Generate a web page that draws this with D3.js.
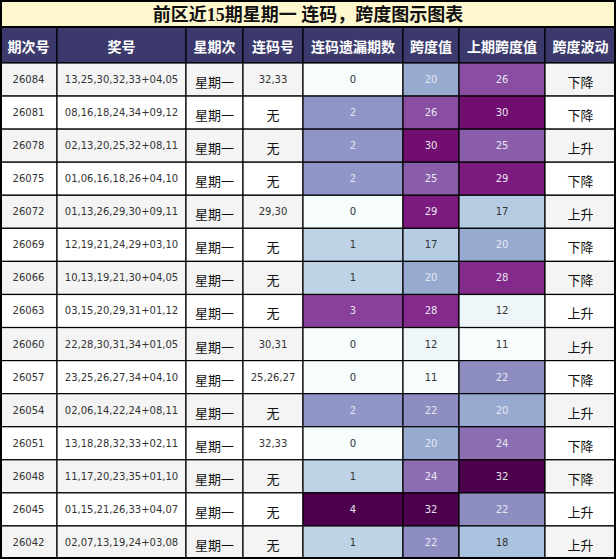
<!DOCTYPE html>
<html>
<head>
<meta charset="utf-8">
<script src="https://cdn.jsdelivr.net/npm/d3@7"></script>
<style>
  body { margin: 0; background: #fff; }
  svg { display: block; }
</style>
</head>
<body>
<div id="wrapper"></div>
<script>
// 1. Data
const title = "前区近15期星期一 连码，跨度图示图表"
const headers = ["期次号", "奖号", "星期次", "连码号", "连码遗漏期数", "跨度值", "上期跨度值", "跨度波动"]

const periods = ["26084", "26081", "26078", "26075", "26072", "26069", "26066", "26063",
                 "26060", "26057", "26054", "26051", "26048", "26045", "26042"]
const draws = ["13,25,30,32,33+04,05", "08,16,18,24,34+09,12", "02,13,20,25,32+08,11",
               "01,06,16,18,26+04,10", "01,13,26,29,30+09,11", "12,19,21,24,29+03,10",
               "10,13,19,21,30+04,05", "03,15,20,29,31+01,12", "22,28,30,31,34+01,05",
               "23,25,26,27,34+04,10", "02,06,14,22,24+08,11", "13,18,28,32,33+02,11",
               "11,17,20,23,35+01,10", "01,15,21,26,33+04,07", "02,07,13,19,24+03,08"]
const weekdays = periods.map(() => "星期一")
const consecutive = ["32,33", "无", "无", "无", "29,30", "无", "无", "无",
                     "30,31", "25,26,27", "无", "32,33", "无", "无", "无"]
const gapCounts = [0, 2, 2, 2, 0, 1, 1, 3, 0, 0, 2, 0, 1, 4, 1]
const spans = [20, 26, 30, 25, 29, 17, 20, 28, 12, 11, 22, 20, 24, 32, 22]
const prevSpans = [26, 30, 25, 29, 17, 20, 28, 12, 11, 22, 20, 24, 32, 22, 18]
const trends = ["下降", "下降", "上升", "下降", "上升", "下降", "下降", "上升",
                "上升", "下降", "上升", "下降", "下降", "上升", "上升"]

// 2. Dimensions
const dimensions = {
  width: 616,
  height: 559,
  titleHeight: 27,
  headerHeight: 36,
}
const colWidths = [57, 129, 57, 60, 100, 56, 86, 71]
const colStarts = d3.cumsum([0, ...colWidths.slice(0, -1)])

// 3. Canvas
const svg = d3.select("#wrapper")
  .append("svg")
  .attr("width", dimensions.width)
  .attr("height", dimensions.height)

const numFont = "'DejaVu Sans', Verdana, sans-serif"
const cjkFont = "'Noto Sans CJK SC', sans-serif"

// 4. Scales
const yScale = d3.scaleBand()
  .domain(periods)
  .range([dimensions.titleHeight + dimensions.headerHeight, dimensions.height])

const gapColor = d3.scaleSequential(d3.interpolateBuPu).domain([0, 4])
const spanColor = d3.scaleSequential(d3.interpolateBuPu)
  .domain(d3.extent([...spans, ...prevSpans]))

// table rows
const rows = periods.map((p, i) => ({
  i,
  cells: [
    { text: p, font: numFont },
    { text: draws[i], font: numFont },
    { text: weekdays[i], font: cjkFont },
    { text: consecutive[i], font: consecutive[i] === "无" ? cjkFont : numFont },
    { text: gapCounts[i], font: numFont, scale: gapColor, v: gapCounts[i] },
    { text: spans[i], font: numFont, scale: spanColor, v: spans[i] },
    { text: prevSpans[i], font: numFont, scale: spanColor, v: prevSpans[i] },
    { text: trends[i], font: cjkFont },
  ],
}))

// 5. Title
svg.append("rect")
  .attr("x", 0).attr("y", 0)
  .attr("width", dimensions.width).attr("height", dimensions.titleHeight)
  .attr("fill", "#fff8cf")

svg.append("text")
  .attr("x", dimensions.width / 2)
  .attr("y", dimensions.titleHeight / 2 + 1)
  .attr("text-anchor", "middle")
  .attr("dominant-baseline", "central")
  .style("font-family", "'Liberation Serif', 'Noto Sans CJK SC', serif")
  .style("font-weight", "bold")
  .style("font-size", "18px")
  .attr("fill", "#111")
  .text(title)

// header
const header = svg.append("g")
  .attr("transform", `translate(0, ${dimensions.titleHeight})`)

header.selectAll("rect")
  .data(headers)
  .join("rect")
    .attr("x", (d, i) => colStarts[i])
    .attr("y", 0)
    .attr("width", (d, i) => colWidths[i])
    .attr("height", dimensions.headerHeight)
    .attr("fill", "#3c3a6c")
    .attr("stroke", "#000")
    .attr("stroke-width", 1.2)

header.selectAll("text")
  .data(headers)
  .join("text")
    .attr("x", (d, i) => colStarts[i] + colWidths[i] / 2)
    .attr("y", dimensions.headerHeight / 2 + 1)
    .attr("text-anchor", "middle")
    .attr("dominant-baseline", "central")
    .style("font-family", cjkFont)
    .style("font-weight", "bold")
    .style("font-size", "14px")
    .attr("fill", "#fff")
    .text(d => d)

// body
const rowGroups = svg.selectAll(".row")
  .data(rows)
  .join("g")
    .attr("class", "row")
    .attr("transform", d => `translate(0, ${yScale(periods[d.i])})`)

const cells = rowGroups.selectAll(".cell")
  .data(d => d.cells.map((c, j) => ({ ...c, j, row: d.i })))
  .join("g")
    .attr("class", "cell")

cells.append("rect")
  .attr("x", d => colStarts[d.j])
  .attr("y", 0)
  .attr("width", d => colWidths[d.j])
  .attr("height", yScale.bandwidth())
  .attr("fill", d => d.scale ? d.scale(d.v) : (d.row % 2 === 0 ? "#f4f4f4" : "#ffffff"))
  .attr("stroke", "#000")
  .attr("stroke-width", 1.2)

cells.append("text")
  .attr("x", d => colStarts[d.j] + colWidths[d.j] / 2)
  .attr("y", d => yScale.bandwidth() / 2 + (d.font === cjkFont ? 2 : 0))
  .attr("text-anchor", "middle")
  .attr("dominant-baseline", "central")
  .style("font-family", d => d.font)
  .style("font-size", d => d.font === cjkFont ? "13px" : "10px")
  .attr("fill", d => {
    if (d.scale) {
      const t = (d.v - d.scale.domain()[0]) / (d.scale.domain()[1] - d.scale.domain()[0])
      return t > 0.4 ? "#e6e6f0" : "#333"
    }
    return d.font === cjkFont ? "#111" : "#333"
  })
  .text(d => d.text)

// outer frame
svg.append("rect")
  .attr("x", 1).attr("y", 1)
  .attr("width", dimensions.width - 2).attr("height", dimensions.height - 2)
  .attr("fill", "none")
  .attr("stroke", "#000")
  .attr("stroke-width", 2)

svg.append("line")
  .attr("x1", 0).attr("x2", dimensions.width)
  .attr("y1", dimensions.titleHeight).attr("y2", dimensions.titleHeight)
  .attr("stroke", "#000")
  .attr("stroke-width", 2)
</script>
</body>
</html>
